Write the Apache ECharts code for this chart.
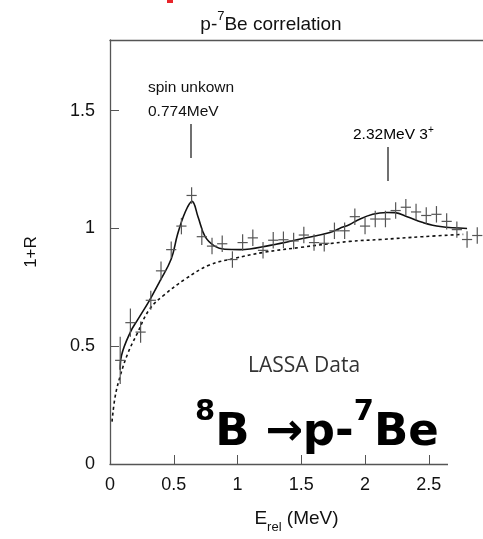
<!DOCTYPE html>
<html>
<head>
<meta charset="utf-8">
<script src="https://cdn.jsdelivr.net/npm/echarts@6/dist/echarts.min.js"></script>
<style>
html,body{margin:0;padding:0;background:#fff;}
#chart{width:483px;height:539px;}
</style>
</head>
<body>
<div id="chart"></div>
<script>
// ---- data ----
const energy = [0.08,0.16,0.24,0.32,0.40,0.48,0.56,0.64,0.72,0.80,0.88,0.96,1.04,1.12,1.20,1.28,1.36,1.44,1.52,1.60,1.68,1.76,1.84,1.92,2.00,2.08,2.16,2.24,2.32,2.40,2.48,2.56,2.64,2.72,2.80,2.88];
const ratio  = [0.44,0.60,0.56,0.695,0.82,0.91,1.01,1.14,0.965,0.925,0.935,0.868,0.94,0.96,0.907,0.95,0.952,0.947,0.972,0.94,0.937,0.99,0.99,1.05,1.01,1.04,1.04,1.076,1.09,1.07,1.055,1.06,1.03,0.995,0.953,0.97];
const yErr   = [0.10,0.06,0.045,0.04,0.04,0.035,0.035,0.035,0.035,0.035,0.035,0.035,0.035,0.035,0.035,0.035,0.035,0.035,0.035,0.035,0.035,0.035,0.035,0.035,0.035,0.035,0.035,0.035,0.035,0.035,0.035,0.035,0.035,0.035,0.035,0.035];
const xErr = 0.04;

const fitE = [0.08,0.09,0.16,0.22,0.31,0.39,0.48,0.53,0.59,0.643,0.69,0.745,0.82,0.90,1.02,1.255,1.51,1.725,1.80,1.88,1.94,2.06,2.17,2.235,2.33,2.455,2.59,2.80];
const fitY = [0.40,0.46,0.56,0.615,0.695,0.775,0.87,0.975,1.07,1.115,1.05,0.966,0.925,0.912,0.91,0.928,0.957,0.983,1.0,1.017,1.035,1.06,1.068,1.067,1.05,1.025,1.008,1.0];

const bgE = [0.016,0.04,0.078,0.14,0.21,0.31,0.43,0.59,0.78,0.97,1.2,1.5,1.88,2.12,2.45,2.77];
const bgY = [0.18,0.285,0.37,0.47,0.55,0.657,0.72,0.785,0.845,0.872,0.898,0.92,0.945,0.953,0.965,0.975];

const xTicks = [0,0.5,1,1.5,2,2.5];
const yTicks = [0,0.5,1,1.5];
const xMax = 2.925;
const yMax = 1.8;

const points = energy.map((e,i)=>[e, ratio[i], yErr[i]]);
const fit = fitE.map((e,i)=>[e, fitY[i]]);
const bg = bgE.map((e,i)=>[e, bgY[i]]);

const chart = echarts.init(document.getElementById('chart'));
const FONT = 'Liberation Sans, Arial, sans-serif';
const axisColor = '#555';
const BLUE_FONT = '"DejaVu Sans", sans-serif';

chart.setOption({
  animation:false,
  backgroundColor:'#fff',
  title:{
    text:'{a|p-}{s|7}{a|Be correlation}',
    left:266, top:5, textAlign:'center',
    textStyle:{
      rich:{
        a:{fontFamily:FONT,fontSize:19,fontWeight:'normal',color:'#111',verticalAlign:'bottom',lineHeight:24},
        s:{fontFamily:FONT,fontSize:13,fontWeight:'normal',color:'#111',verticalAlign:'top',lineHeight:24,padding:[0,0,10,0]}
      }
    }
  },
  grid:{left:110, top:40, bottom:74, right:0, show:false},
  xAxis:[{
    type:'value', min:0, max:xMax, interval:0.5,
    axisLine:{show:true,lineStyle:{color:axisColor,width:1.3}},
    axisTick:{show:true,inside:true,length:9,lineStyle:{color:axisColor,width:1}},
    axisLabel:{color:'#111',fontFamily:FONT,fontSize:18,margin:12,showMaxLabel:false,
      formatter:v=> xTicks.includes(+v.toFixed(2)) ? String(v) : ''},
    splitLine:{show:false},
    name:'{e|E}{s|rel}{e| (MeV)}', nameLocation:'middle', nameGap:40,
    nameTextStyle:{rich:{
      e:{fontFamily:FONT,fontSize:19,color:'#111',verticalAlign:'bottom',lineHeight:24},
      s:{fontFamily:FONT,fontSize:13,color:'#111',verticalAlign:'bottom',lineHeight:24,padding:[0,0,-6,0]}
    }}
  },{
    type:'value', position:'top', min:0, max:xMax,
    axisLine:{show:true,lineStyle:{color:axisColor,width:1.3}},
    axisTick:{show:false}, axisLabel:{show:false}, splitLine:{show:false}
  }],
  yAxis:{
    type:'value', min:0, max:yMax, interval:0.5,
    axisLine:{show:true,lineStyle:{color:axisColor,width:1.3}},
    axisTick:{show:true,inside:true,length:9,lineStyle:{color:axisColor,width:1}},
    axisLabel:{color:'#111',fontFamily:FONT,fontSize:18,margin:15,showMaxLabel:false,
      formatter:v=> yTicks.includes(+v.toFixed(2)) ? String(v) : ''},
    splitLine:{show:false},
    name:'1+R', nameLocation:'middle', nameGap:70, nameRotate:90,
    nameTextStyle:{fontFamily:FONT,fontSize:17,color:'#111'}
  },
  series:[
    {
      type:'line', data:bg, smooth:0.4, symbol:'none',
      lineStyle:{color:'#111',width:1.6,type:[3,3]}, z:2
    },
    {
      type:'line', data:fit, smooth:0.4, symbol:'none',
      lineStyle:{color:'#111',width:1.6}, z:3
    },
    {
      type:'custom', data:points, z:4,
      renderItem:(params,api)=>{
        const e=api.value(0), r=api.value(1), err=api.value(2);
        const l=api.coord([e-xErr,r]), rr=api.coord([e+xErr,r]);
        const t=api.coord([e,r+err]), b=api.coord([e,r-err]);
        const st={stroke:'#555',lineWidth:1.2};
        return {type:'group',children:[
          {type:'line',shape:{x1:l[0],y1:l[1],x2:rr[0],y2:rr[1]},style:st},
          {type:'line',shape:{x1:t[0],y1:t[1],x2:b[0],y2:b[1]},style:st}
        ]};
      }
    }
  ],
  graphic:[
    {type:'rect',left:167,top:0,shape:{width:6,height:3},style:{fill:'#e8242a'}},
    {type:'rect',left:448,top:459,shape:{width:40,height:12},style:{fill:'#fff'},z:100},
    {type:'text',left:148,top:80,style:{text:'spin unkown',font:'15.5px '+FONT,fill:'#111'}},
    {type:'text',left:148,top:104,style:{text:'0.774MeV',font:'15.5px '+FONT,fill:'#111'}},
    {type:'line',shape:{x1:191,y1:124,x2:191,y2:158},style:{stroke:'#111',lineWidth:1.2}},
    {type:'text',left:353,top:125,style:{
      text:'{a|2.32MeV 3}{s|+}',
      rich:{a:{fontFamily:FONT,fontSize:15.5,color:'#111',verticalAlign:'bottom',lineHeight:18},
            s:{fontFamily:FONT,fontSize:10,color:'#111',verticalAlign:'top',lineHeight:18,padding:[0,0,8,0]}}
    }},
    {type:'line',shape:{x1:388,y1:147,x2:388,y2:181},style:{stroke:'#111',lineWidth:1.2}},
    {type:'text',left:248,top:356,style:{text:'LASSA Data',font:'21px "Open Sans", sans-serif',fill:'#333'}},
    {type:'text',left:195,top:398,style:{
      text:'{s|8}{b|B }{b|→}{b|p-}{s|7}{b|Be}',
      rich:{
        b:{fontFamily:BLUE_FONT,fontWeight:'bold',fontSize:45,color:'#1c4fb5',verticalAlign:'bottom',lineHeight:58},
        s:{fontFamily:BLUE_FONT,fontWeight:'bold',fontSize:29,color:'#1c4fb5',verticalAlign:'top',lineHeight:58,padding:[0,0,16,0]}
      }
    }}
  ]
});
</script>
</body>
</html>
